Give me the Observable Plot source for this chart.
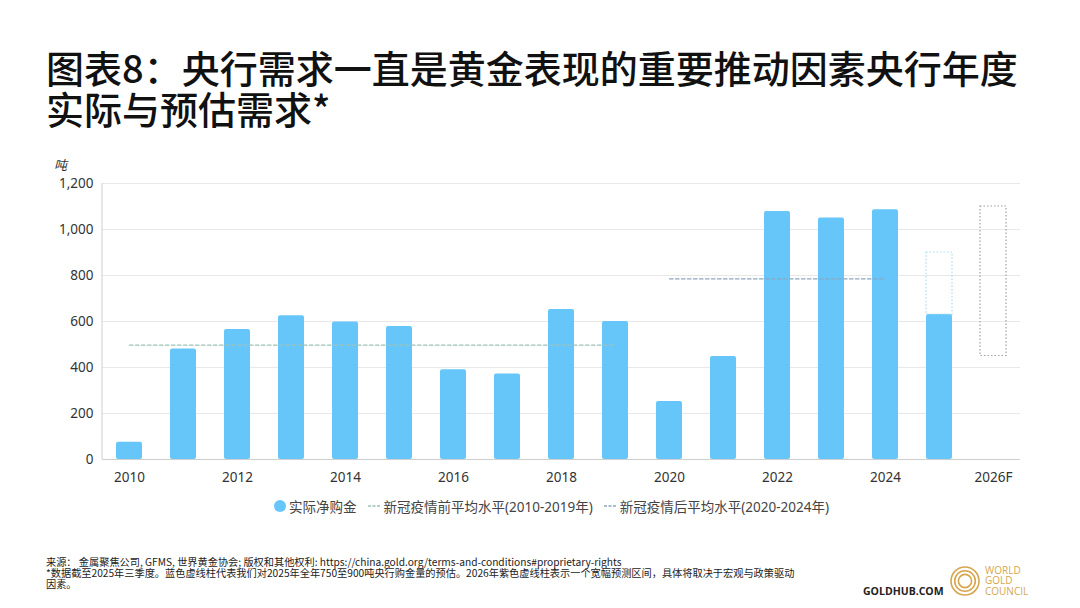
<!DOCTYPE html>
<html><head><meta charset="utf-8">
<script src="https://cdn.jsdelivr.net/npm/d3@7"></script>
<script src="https://cdn.jsdelivr.net/npm/@observablehq/plot@0.6"></script>
<style>
body{margin:0;width:1080px;height:608px;position:relative;overflow:hidden;background:#fff;font-family:"Noto Sans","Noto Sans CJK SC",sans-serif;}
#title{position:absolute;left:46px;top:46px;font-family:"Noto Sans CJK SC",sans-serif;font-size:38px;line-height:41px;font-weight:500;color:#111;white-space:nowrap;}
#unit{position:absolute;left:54px;top:155px;font-size:13px;font-style:italic;color:#333;font-family:"Noto Sans CJK SC",sans-serif;}
#chart{position:absolute;left:0;top:140px;}
#legend{position:absolute;left:274px;top:496px;display:flex;align-items:center;font-size:13.5px;color:#444;font-family:"Noto Sans","Noto Sans CJK SC",sans-serif;white-space:nowrap;}
#legend .it{display:flex;align-items:center;margin-right:11px;}
#foot{position:absolute;left:46px;top:556px;font-size:10.2px;line-height:11px;color:#222;font-family:"Noto Sans CJK SC",sans-serif;white-space:nowrap;}
#gh{position:absolute;left:863px;top:584px;font-size:10.5px;font-weight:700;color:#222;font-family:"Open Sans",sans-serif;}
#wgc{position:absolute;left:948px;top:564px;}
#wgct{position:absolute;left:985px;top:565px;font-size:10px;line-height:10.3px;color:#d6a64f;font-family:"Open Sans",sans-serif;}
</style></head>
<body>
<div id="title">图表8：央行需求一直是黄金表现的重要推动因素央行年度<br>实际与预估需求*</div>
<div id="unit">吨</div>
<div id="chart"></div>
<div id="legend"></div>
<div id="foot">来源：  金属聚焦公司, GFMS, 世界黄金协会; 版权和其他权利: https://china.gold.org/terms-and-conditions#proprietary-rights<br>*数据截至2025年三季度。蓝色虚线柱代表我们对2025年全年750至900吨央行购金量的预估。2026年紫色虚线柱表示一个宽幅预测区间，具体将取决于宏观与政策驱动<br>因素。</div>
<div id="gh">GOLDHUB.COM</div>
<svg id="wgc" width="36" height="36" viewBox="0 0 36 36"><g fill="none" stroke="#d6a64f" stroke-width="1.6"><circle cx="17" cy="17" r="14"/><circle cx="17" cy="17" r="10.3"/><circle cx="17" cy="17" r="6.6"/></g></svg>
<div id="wgct">WORLD<br>GOLD<br>COUNCIL</div>
<script>
const years = ["2010","2011","2012","2013","2014","2015","2016","2017","2018","2019","2020","2021","2022","2023","2024","2025","2026F"];
const actual = [75, 480, 565, 625, 598, 578, 390, 372, 652, 600, 252, 448, 1078, 1050, 1086, 630, null];
const estYears = ["2025", "2026F"];
const estLow = [630, 450];
const estHigh = [900, 1100];
const preAvg = 497;
const postAvg = 785;
const preRange = ["2010", "2019"];
const postRange = ["2020", "2024"];
const yTicks = [0, 200, 400, 600, 800, 1000, 1200];
const xTickLabels = ["2010","2012","2014","2016","2018","2020","2022","2024","2026F"];
const legendLabels = ["实际净购金", "新冠疫情前平均水平(2010-2019年)", "新冠疫情后平均水平(2020-2024年)"];

const barColor = "#66c6fa";
const preColor = "#9dc2b6";
const postColor = "#8ea6bf";

const bars = years.map((y, i) => ({year: y, value: actual[i]})).filter(d => d.value != null);
const est = estYears.map((y, i) => ({year: y, lo: estLow[i], hi: estHigh[i]}));
const preLine = preRange.map(y => ({year: y, v: preAvg}));
const postLine = postRange.map(y => ({year: y, v: postAvg}));

const leftAxis = (index, scales, values, dims) => {
  const l = document.createElementNS("http://www.w3.org/2000/svg", "line");
  l.setAttribute("x1", dims.marginLeft); l.setAttribute("x2", dims.marginLeft);
  l.setAttribute("y1", scales.y(1200)); l.setAttribute("y2", scales.y(0));
  l.setAttribute("stroke", "#cfcfcf"); l.setAttribute("stroke-width", 1);
  return l;
};

const chart = Plot.plot({
  width: 1080, height: 350,
  marginTop: 43, marginBottom: 31, marginLeft: 102, marginRight: 60,
  style: {fontFamily: '"Noto Sans","Noto Sans CJK SC",sans-serif', fontSize: "13px", color: "#333", background: "transparent"},
  x: {type: "band", domain: years, paddingInner: 0.52, paddingOuter: 0.26, axis: null},
  y: {domain: [0, 1200], axis: null},
  marks: [
    Plot.gridY(yTicks, {stroke: "#e8e8e8", strokeOpacity: 1}),
    Plot.axisY(yTicks, {tickSize: 0, tickPadding: 9, tickFormat: d3.format(","), label: null, fontSize: 13.5}),
    Plot.axisX(xTickLabels, {tickSize: 0, tickPadding: 13, label: null, fontSize: 13.5}),
    Plot.barY(bars, {x: "year", y: "value", fill: barColor, rx: 2}),
    Plot.barY(est.filter(d => d.year === "2025"), {x: "year", y1: "lo", y2: "hi", fill: "none", stroke: "#a8dcf5", strokeWidth: 1.2, strokeDasharray: "1.5,2"}),
    Plot.barY(est.filter(d => d.year === "2026F"), {x: "year", y1: "lo", y2: "hi", fill: "none", stroke: "#a0a0a0", strokeWidth: 1.2, strokeDasharray: "1.5,2"}),
    Plot.line(preLine, {x: "year", y: "v", stroke: preColor, strokeWidth: 1.3, strokeDasharray: "3.5,2.5"}),
    Plot.line(postLine, {x: "year", y: "v", stroke: postColor, strokeWidth: 1.3, strokeDasharray: "3.5,2.5"}),
    Plot.ruleY([0], {stroke: "#cfcfcf"}),
    leftAxis
  ]
});
document.getElementById("chart").appendChild(chart);

const lg = document.getElementById("legend");
const sw = [
  `<svg width="12" height="12" style="margin-right:3px"><circle cx="6" cy="6" r="6" fill="${barColor}"/></svg>`,
  `<svg width="12" height="10" style="margin-right:4px"><line x1="0" x2="12" y1="5" y2="5" stroke="${preColor}" stroke-width="1.3" stroke-dasharray="3,1.5"/></svg>`,
  `<svg width="12" height="10" style="margin-right:4px"><line x1="0" x2="12" y1="5" y2="5" stroke="${postColor}" stroke-width="1.3" stroke-dasharray="3,1.5"/></svg>`
];
legendLabels.forEach((t, i) => {
  const d = document.createElement("div");
  d.className = "it";
  d.innerHTML = sw[i] + `<span>${t}</span>`;
  lg.appendChild(d);
});
</script>
</body></html>
